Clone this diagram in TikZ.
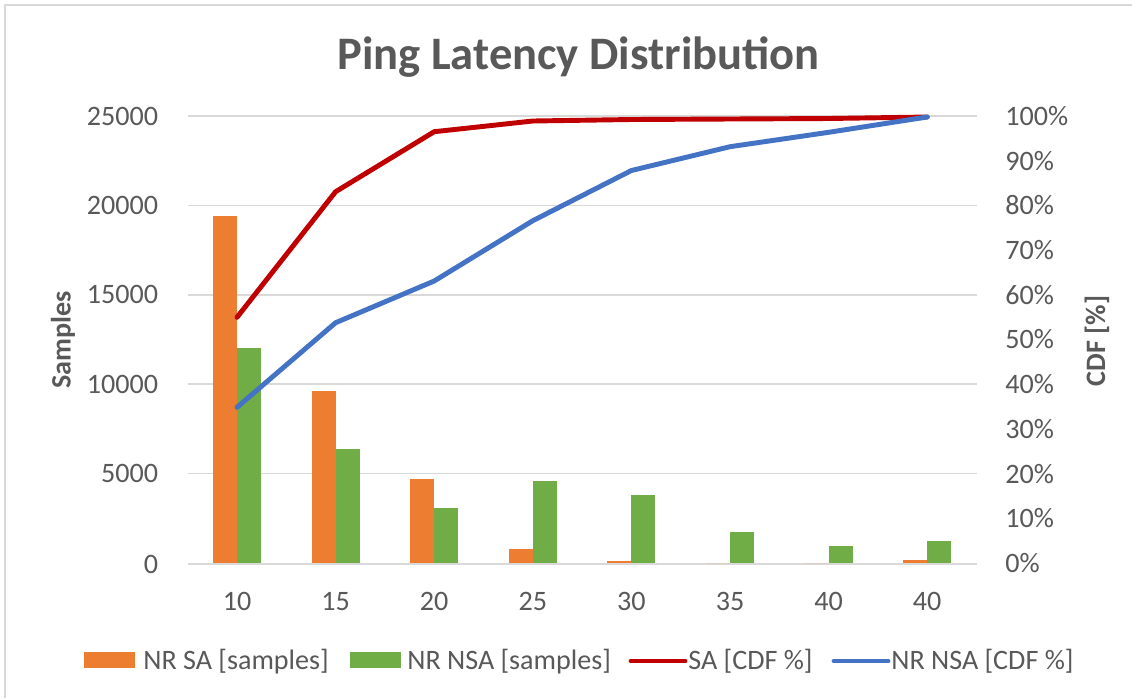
\documentclass[tikz,border=0pt]{standalone}
\usepackage{fontspec}
\setmainfont{Carlito}
\definecolor{txtgray}{HTML}{595959}
\definecolor{gridgray}{HTML}{D9D9D9}
\definecolor{orng}{HTML}{ED7D31}
\definecolor{grn}{HTML}{70AD47}
\definecolor{sared}{HTML}{C00000}
\definecolor{nsablue}{HTML}{4472C4}
\begin{document}
\begin{tikzpicture}[x=0.02cm,y=-0.02cm,
  lbl/.style={text=txtgray,inner sep=0pt,font=\fontsize{16}{19}\selectfont},
  axtitle/.style={text=txtgray,inner sep=0pt,font=\fontsize{16}{19}\selectfont\bfseries,rotate=90},
  gridline/.style={draw=gridgray,line width=0.9pt},
  sacurve/.style={draw=sared,line width=2.8pt,line cap=round,line join=round},
  nsacurve/.style={draw=nsablue,line width=2.8pt,line cap=round,line join=round},
  obar/.style={fill=orng},
  gbar/.style={fill=grn}]
\useasboundingbox (0,0) rectangle (1132,698);
\fill[white] (0,0) rectangle (1132,698);
\draw[gridgray,line width=1pt] (5,698) -- (5,5) -- (1132,5);
% title
\node[anchor=base,text=txtgray,inner sep=0pt,font=\fontsize{26.5}{30}\selectfont\bfseries] (title) at (578.5,69.3) {Ping Latency Distribution};
% grid and left/right tick labels
\foreach \k/\y/\lv in {0/564/0,1/473.6/5000,2/384.2/10000,3/294.8/15000,4/205.4/20000,5/116/25000}{
  \draw[gridline] (187.7,\y) -- (976.7,\y);
  \node[lbl,anchor=east] (yl\k) at (158.5,\y) {\lv};
}
\foreach \k in {0,...,10}{
  \pgfmathsetmacro\yy{563-44.7*\k}
  \pgfmathtruncatemacro\pc{10*\k}
  \node[lbl,anchor=west] (yr\k) at (1005,\yy) {\pc\%};
}
% bars
\foreach \i/\o/\g/\cl in {0/216/347.7/10,1/390.7/448.7/15,2/479/507.7/20,3/549.3/481.3/25,4/561/495.3/30,5/563/531.7/35,6/563/545.7/40,7/560/540.7/40}{
  \pgfmathsetmacro\c{237+98.6*\i}
  \fill[obar] (\c-24,563) rectangle (\c,\o);
  \fill[gbar] (\c,563) rectangle (\c+24,\g);
  \node[lbl] (xl\i) at (\c,601.5) {\cl};
}
% curves
\draw[sacurve] plot coordinates {(237,317.3) (335.6,191.7) (434.2,131.7) (532.8,121) (631.4,119.5) (730,119) (828.6,118.5) (927.2,117)};
\draw[nsacurve] plot coordinates {(237,407.3) (335.6,322.7) (434.2,281) (532.8,220.7) (631.4,170.5) (730,146.7) (828.6,132.3) (927.2,117)};
% axis titles
\node[axtitle] (ytitle) at (63,340) {Samples};
\node[axtitle] (y2title) at (1097,341) {CDF [\%]};
% legend
\fill[obar] (84,652.3) rectangle (135,667.7);
\node[lbl,anchor=base west] (lg1) at (143,669) {NR SA [samples]};
\fill[gbar] (350,652.3) rectangle (401,667.7);
\node[lbl,anchor=base west] (lg2) at (407,669) {NR NSA [samples]};
\coordinate (r1) at (631,661);
\coordinate (r2) at (685,661);
\draw[sacurve] (r1) -- (r2);
\node[lbl,anchor=base west] (lg3) at (688,669) {SA [CDF \%]};
\coordinate (b1) at (834,661);
\coordinate (b2) at (888,661);
\draw[nsacurve] (b1) -- (b2);
\node[lbl,anchor=base west] (lg4) at (891,669) {NR NSA [CDF \%]};
\end{tikzpicture}
\end{document}
